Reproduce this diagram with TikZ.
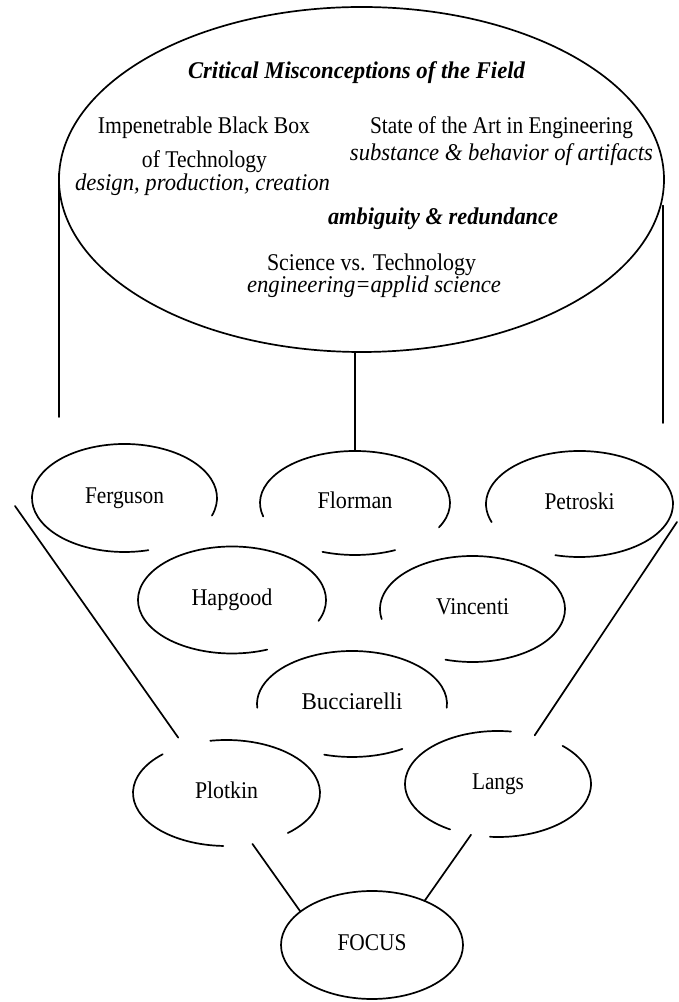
\documentclass[tikz,border=0pt]{standalone}
\usepackage{fontspec}
\setmainfont{Liberation Serif}
\usepackage{graphicx}
\usetikzlibrary{shapes.geometric,calc}
% set a line of text to a given width, keeping its height
\newcommand\fitw[2]{\resizebox{#1pt}{\height}{#2}}
% open ellipse: arc around a node centre from angle #2 to #3, radii #4 and #5
\newcommand\ellarc[5]{\draw[ink] ([shift={(#2:#4 and #5)}]#1.center) arc[start angle=#2, end angle=#3, x radius=#4, y radius=#5];}
\newcommand\labsize{\fontsize{24}{28}\selectfont}
\begin{document}
\begin{tikzpicture}[x=1pt,y=1pt,
  ink/.style={line width=1.7pt, line cap=round},
  bubble/.style={ellipse, inner sep=0pt, outer sep=0pt, text height=16pt, text depth=5pt, font=\labsize},
  txt/.style={inner sep=0pt, text height=16pt, text depth=5pt, font=\labsize},
  txti/.style={txt, font=\labsize\itshape},
  txtb/.style={txt, font=\labsize\bfseries\itshape},
]
\useasboundingbox (0,0) rectangle (678,1002);
\fill[white] (0,0) rectangle (678,1002);

% the large ellipse of misconceptions
\node[bubble, draw, ink, minimum width=605, minimum height=345] (big) at (361.5,822.5) {};
\node[txtb] (t1) at (356.5,929) {\fitw{337}{Critical Misconceptions of the Field}};
\node[txt]  (t2) at (204,874)   {\fitw{212}{Impenetrable Black Box}};
\node[txt]  (t3) at (204.5,840) {\fitw{125}{of Technology}};
\node[txti] (t4) at (202.5,817) {\fitw{255}{design, production, creation}};
\node[txt]  (t5) at (501.5,874) {\fitw{263}{State of the Art in Engineering}};
\node[txti] (t6) at (501.5,847) {\fitw{303}{substance \& behavior of artifacts}};
\node[txtb] (t7) at (443,783)   {\fitw{230}{ambiguity \& redundance}};
\node[txt]  (t8) at (371.5,737) {\fitw{209}{Science vs. Technology}};
\node[txti] (t9) at (374,715)   {\fitw{254}{engineering=applid science}};

% author bubbles
\node[bubble, minimum width=185, minimum height=108] (fer) at (124.5,504) {\fitw{79}{Ferguson}};
\node[bubble, minimum width=190, minimum height=104] (flo) at (355,499)   {\fitw{75}{Florman}};
\node[bubble, minimum width=187, minimum height=106] (pet) at (579.5,498) {\fitw{70}{Petroski}};
\node[bubble, minimum width=188, minimum height=107] (hap) at (232,402)   {\fitw{81}{Hapgood}};
\node[bubble, minimum width=185, minimum height=106] (vin) at (472.5,393) {\fitw{73}{Vincenti}};
\node[bubble, minimum width=190, minimum height=106] (buc) at (352,298)   {\fitw{101}{Bucciarelli}};
\node[bubble, minimum width=187, minimum height=106] (plo) at (226.5,209) {\fitw{63}{Plotkin}};
\node[bubble, minimum width=186, minimum height=106] (lan) at (498,218)   {\fitw{52}{Langs}};
\node[bubble, draw, ink, minimum width=182, minimum height=108] (foc) at (372,57) {\fitw{69}{FOCUS}};

\ellarc{fer}{-19}{285}{92.5}{54}
\ellarc{flo}{-28}{195}{95}{52}
\ellarc{flo}{250}{295}{95}{52}
\ellarc{pet}{255}{560}{93.5}{53}
\ellarc{hap}{-23}{292}{94}{53.5}
\ellarc{vin}{253}{551}{92.5}{53}
\ellarc{buc}{-4}{184}{95}{53}
\ellarc{buc}{253}{302}{95}{53}
\ellarc{plo}{133}{268}{93.5}{53}
\ellarc{plo}{311}{460}{93.5}{53}
\ellarc{lan}{82}{239}{93}{53}
\ellarc{lan}{265}{406}{93}{53}

% pillars under the large ellipse
\coordinate (lv) at (59,585);
\coordinate (rv) at (663,579);
\draw[ink] ([yshift=6pt]big.west) -- (lv);
\draw[ink] (rv |- big.-5) -- (rv);
\draw[ink] (flo.north |- big.south) -- (flo.north);

% funnel sides
\coordinate (fl) at (15,496);
\coordinate (fr) at (677,480);
\draw[ink, shorten >=10pt] (fl) -- (plo.132);
\draw[ink] (fr) -- (lan.53);

% links into the focus
\draw[ink] (plo.-63) -- (foc.155);
\draw[ink] (lan.242) -- (foc.40);
\end{tikzpicture}
\end{document}
